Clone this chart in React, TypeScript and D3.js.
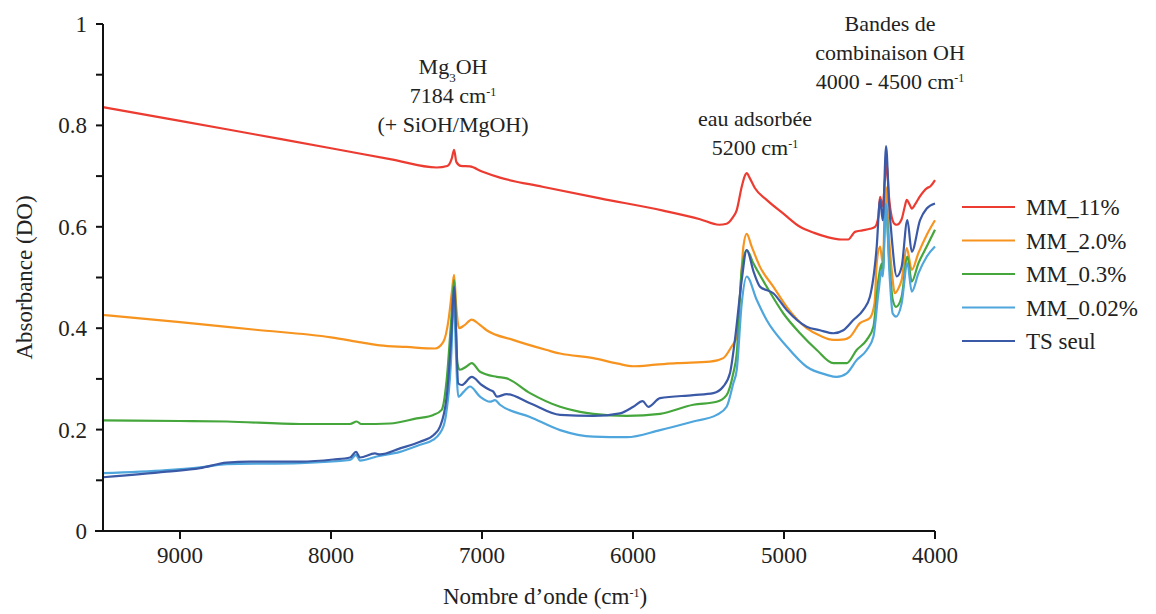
import React from "react";
import * as d3 from "d3";

type P = [number, number];

const seriesNames = ["MM_11%", "MM_2.0%", "MM_0.3%", "MM_0.02%", "TS seul"];
const seriesColors = ["#ec3b30", "#f7941f", "#45a63c", "#4ea6dd", "#3a59a6"];

const mm11: P[] = [
  [9510, 0.836], [9000, 0.809], [8500, 0.782], [8000, 0.755], [7600, 0.733], [7300, 0.717],
  [7230, 0.72], [7200, 0.735], [7185, 0.752], [7170, 0.728], [7140, 0.72], [7080, 0.719],
  [7000, 0.709], [6881, 0.697], [6600, 0.679], [6218, 0.656], [5800, 0.632], [5556, 0.615],
  [5430, 0.604], [5380, 0.606], [5340, 0.618], [5313, 0.633], [5280, 0.679], [5260, 0.7],
  [5247, 0.706], [5225, 0.695], [5192, 0.676], [5115, 0.653], [5000, 0.625], [4894, 0.6],
  [4800, 0.588], [4717, 0.58], [4620, 0.575], [4574, 0.575], [4545, 0.585], [4530, 0.59],
  [4480, 0.593], [4430, 0.596], [4397, 0.6], [4375, 0.62], [4364, 0.659], [4346, 0.64],
  [4332, 0.69], [4320, 0.725], [4305, 0.66], [4287, 0.62], [4265, 0.605], [4253, 0.604],
  [4221, 0.615], [4200, 0.64], [4187, 0.653], [4170, 0.645], [4154, 0.636], [4130, 0.645],
  [4100, 0.66], [4055, 0.676], [4030, 0.68], [4000, 0.692],
];

const mm20: P[] = [
  [9510, 0.426], [9000, 0.412], [8500, 0.397], [8000, 0.382], [7800, 0.372], [7675, 0.366],
  [7500, 0.363], [7311, 0.36], [7256, 0.373], [7220, 0.42], [7200, 0.47], [7185, 0.505],
  [7170, 0.44], [7152, 0.4], [7120, 0.405], [7068, 0.417], [7020, 0.408], [6969, 0.396],
  [6795, 0.377], [6571, 0.357], [6483, 0.35], [6263, 0.341], [6100, 0.33], [5998, 0.325],
  [5850, 0.328], [5710, 0.331], [5490, 0.334], [5402, 0.341], [5347, 0.364], [5313, 0.383],
  [5290, 0.47], [5269, 0.561], [5247, 0.586], [5214, 0.561], [5159, 0.521], [5071, 0.482],
  [4982, 0.442], [4850, 0.4], [4760, 0.385], [4673, 0.377], [4600, 0.378], [4563, 0.383],
  [4497, 0.41], [4431, 0.42], [4400, 0.45], [4386, 0.528], [4364, 0.561], [4346, 0.528],
  [4326, 0.679], [4305, 0.58], [4287, 0.515], [4265, 0.469], [4240, 0.48], [4221, 0.495],
  [4187, 0.558], [4154, 0.515], [4110, 0.548], [4055, 0.584], [4000, 0.613],
];

const mm03: P[] = [
  [9510, 0.218], [9000, 0.217], [8691, 0.216], [8205, 0.211], [7874, 0.211], [7830, 0.216],
  [7800, 0.211], [7609, 0.212], [7433, 0.222], [7322, 0.229], [7267, 0.239], [7234, 0.298],
  [7201, 0.429], [7185, 0.495], [7163, 0.331], [7146, 0.318], [7100, 0.325], [7068, 0.331],
  [7013, 0.314], [6902, 0.304], [6836, 0.301], [6682, 0.272], [6483, 0.245], [6351, 0.235],
  [6263, 0.231], [6042, 0.227], [5821, 0.231], [5601, 0.249], [5446, 0.255], [5380, 0.268],
  [5336, 0.311], [5313, 0.35], [5280, 0.515], [5247, 0.554], [5203, 0.528], [5115, 0.482],
  [5004, 0.429], [4894, 0.39], [4783, 0.357], [4673, 0.331], [4585, 0.331], [4519, 0.357],
  [4452, 0.377], [4408, 0.403], [4375, 0.495], [4353, 0.528], [4346, 0.509], [4326, 0.64],
  [4300, 0.52], [4280, 0.456], [4258, 0.442], [4221, 0.462], [4183, 0.541], [4154, 0.492],
  [4110, 0.528], [4055, 0.561], [4000, 0.594],
];

const mm002: P[] = [
  [9510, 0.114], [9088, 0.12], [8850, 0.126], [8691, 0.132], [8205, 0.134], [7874, 0.14],
  [7834, 0.15], [7808, 0.139], [7697, 0.147], [7543, 0.156], [7410, 0.17], [7322, 0.18],
  [7256, 0.206], [7234, 0.239], [7201, 0.364], [7190, 0.462], [7157, 0.265], [7120, 0.275],
  [7080, 0.285], [7013, 0.265], [6947, 0.255], [6914, 0.258], [6881, 0.249], [6682, 0.225],
  [6483, 0.199], [6263, 0.186], [6042, 0.185], [5821, 0.199], [5601, 0.216], [5446, 0.229],
  [5380, 0.245], [5336, 0.291], [5313, 0.318], [5280, 0.449], [5247, 0.502], [5181, 0.456],
  [5115, 0.416], [4982, 0.364], [4850, 0.324], [4717, 0.308], [4651, 0.304], [4585, 0.311],
  [4519, 0.337], [4452, 0.357], [4408, 0.383], [4375, 0.469], [4353, 0.515], [4346, 0.502],
  [4326, 0.646], [4300, 0.5], [4280, 0.429], [4258, 0.423], [4221, 0.449], [4183, 0.528],
  [4154, 0.472], [4110, 0.508], [4055, 0.541], [4000, 0.561],
];

const tsSeul: P[] = [
  [9510, 0.106], [9088, 0.117], [8868, 0.124], [8691, 0.135], [8537, 0.137], [8205, 0.137],
  [7985, 0.141], [7874, 0.145], [7834, 0.156], [7808, 0.145], [7709, 0.153], [7675, 0.151],
  [7543, 0.163], [7410, 0.176], [7322, 0.189], [7278, 0.206], [7234, 0.265], [7201, 0.396],
  [7185, 0.482], [7157, 0.291], [7134, 0.288], [7068, 0.304], [7002, 0.288], [6947, 0.278],
  [6925, 0.275], [6902, 0.265], [6836, 0.27], [6682, 0.252], [6483, 0.229], [6263, 0.227],
  [6086, 0.232], [5998, 0.245], [5936, 0.256], [5899, 0.245], [5821, 0.262], [5601, 0.268],
  [5468, 0.272], [5402, 0.285], [5358, 0.311], [5325, 0.377], [5280, 0.495], [5247, 0.554],
  [5200, 0.51], [5159, 0.482], [5071, 0.469], [4982, 0.436], [4850, 0.403], [4762, 0.396],
  [4673, 0.39], [4607, 0.396], [4541, 0.416], [4475, 0.436], [4431, 0.462], [4386, 0.561],
  [4364, 0.653], [4346, 0.613], [4324, 0.759], [4305, 0.65], [4287, 0.58], [4253, 0.502],
  [4221, 0.521], [4183, 0.613], [4154, 0.551], [4099, 0.613], [4055, 0.636], [4000, 0.646],
];

const seriesData: P[][] = [mm11, mm20, mm03, mm002, tsSeul];

const xTicks = [9000, 8000, 7000, 6000, 5000, 4000];
const yTicks = [0, 0.1, 0.2, 0.3, 0.4, 0.5, 0.6, 0.7, 0.8, 0.9, 1];
const yLabelTicks = [0, 0.2, 0.4, 0.6, 0.8, 1];

const W = 1156;
const H = 614;
const margin = { left: 103, right: 221, top: 24, bottom: 83 };
const FONT = '"Times New Roman", Times, "Liberation Serif", "Nimbus Roman", "DejaVu Serif", serif';

export default function App() {
  const x = d3.scaleLinear().domain([9510, 4000]).range([margin.left, W - margin.right]);
  const y = d3.scaleLinear().domain([0, 1]).range([H - margin.bottom, margin.top]);
  const line = d3
    .line<P>()
    .x((d) => x(d[0]))
    .y((d) => y(d[1]))
    .curve(d3.curveMonotoneX);

  const x0 = x.range()[0];
  const x1 = x.range()[1];
  const yb = y(0);

  const sup = (t: string) => (
    <tspan baselineShift="super" style={{ fontSize: 12 }}>
      {t}
    </tspan>
  );

  const txt = { fontFamily: FONT, fill: "#222" } as React.CSSProperties;

  return (
    <svg
      width={W}
      height={H}
      style={{ position: "absolute", left: 0, top: 0, background: "#fff", fontFamily: FONT }}
    >
      <rect width={W} height={H} fill="#fff" />
      {seriesData.map((s, i) => (
        <path
          key={seriesNames[i]}
          d={line(s) || ""}
          fill="none"
          stroke={seriesColors[i]}
          strokeWidth={2.2}
          strokeLinejoin="round"
        />
      ))}

      {/* y axis */}
      <line x1={x0} x2={x0} y1={y(1)} y2={yb} stroke="#111" strokeWidth={2} />
      {yTicks.map((t) => (
        <line key={t} x1={x0 - 7} x2={x0} y1={y(t)} y2={y(t)} stroke="#111" strokeWidth={2} />
      ))}
      {yLabelTicks.map((t) => (
        <text
          key={t}
          x={x0 - 16}
          y={y(t)}
          dy="0.35em"
          textAnchor="end"
          style={{ ...txt, fontSize: 23 }}
        >
          {d3.format("~g")(t)}
        </text>
      ))}
      <text
        transform={`translate(24,${(y(1) + yb) / 2}) rotate(-90)`}
        textAnchor="middle"
        dy="0.35em"
        style={{ ...txt, fontSize: 23 }}
      >
        Absorbance (DO)
      </text>

      {/* x axis */}
      <line x1={x0 - 8} x2={x1} y1={yb} y2={yb} stroke="#111" strokeWidth={2} />
      {xTicks.map((t) => (
        <g key={t}>
          <line x1={x(t)} x2={x(t)} y1={yb} y2={yb + 8} stroke="#111" strokeWidth={2} />
          <text x={x(t)} y={yb + 32} textAnchor="middle" style={{ ...txt, fontSize: 23 }}>
            {t}
          </text>
        </g>
      ))}
      <text x={545} y={604} textAnchor="middle" style={{ ...txt, fontSize: 23 }}>
        Nombre d’onde (cm{sup("-1")})
      </text>

      {/* annotations */}
      <g textAnchor="middle" style={{ ...txt, fontSize: 22 }}>
        <text x={453} y={74}>
          Mg<tspan baselineShift="sub" style={{ fontSize: 13 }}>3</tspan>OH
        </text>
        <text x={453} y={103}>7184 cm{sup("-1")}</text>
        <text x={453} y={132}>(+ SiOH/MgOH)</text>

        <text x={755} y={126}>eau adsorbée</text>
        <text x={755} y={155}>5200 cm{sup("-1")}</text>

        <text x={890} y={31}>Bandes de</text>
        <text x={890} y={60}>combinaison OH</text>
        <text x={890} y={89}>4000 - 4500 cm{sup("-1")}</text>
      </g>

      {/* legend */}
      {seriesNames.map((n, i) => {
        const ly = 207 + i * 33.5;
        return (
          <g key={n}>
            <line x1={962} x2={1015} y1={ly} y2={ly} stroke={seriesColors[i]} strokeWidth={2.2} />
            <text x={1026} y={ly} dy="0.35em" style={{ ...txt, fontSize: 23 }}>
              {n}
            </text>
          </g>
        );
      })}
    </svg>
  );
}
